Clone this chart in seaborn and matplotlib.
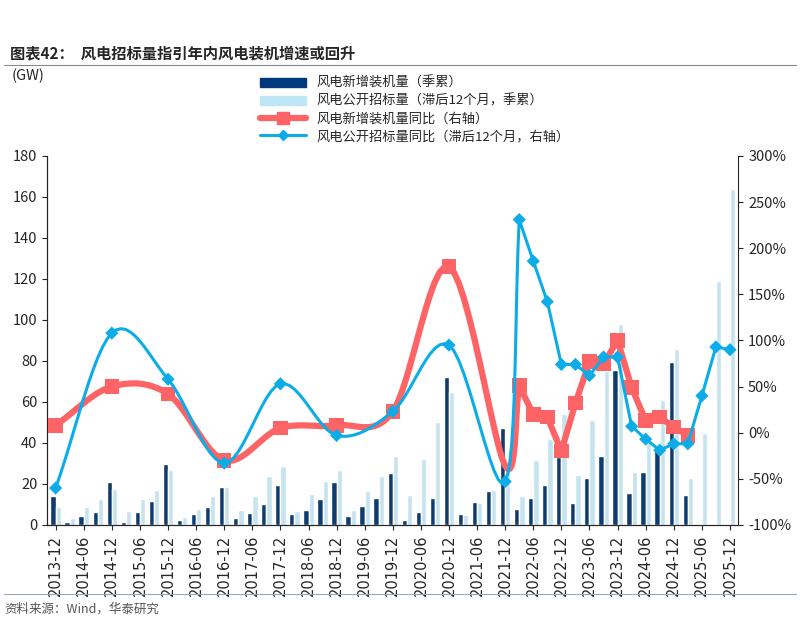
import numpy as np
import pandas as pd
import matplotlib.pyplot as plt
import seaborn as sns
from matplotlib.lines import Line2D
from matplotlib.patches import Patch

quarters = [f'{y}-{m:02d}' for y in range(2013, 2026) for m in (3, 6, 9, 12)][3:]

install = [14, 1.5, 4.5, 6.5, 21, 1.5, 6.5, 11.5, 29.5, 2.5, 5.5, 8.5, 18.5,
           3.5, 6, 10, 19.5, 5.5, 7.5, 12.5, 21, 4.5, 9, 13, 25.5,
           2.5, 6.5, 13, 72, 5.5, 11, 16.5, 47.5, 8, 13, 19.5, 33,
           10.5, 23, 33.5, 75.5, 15.5, 26, 39, 79.5, 14.5, np.nan, np.nan, np.nan]
tender = [8.5, 3.5, 8.5, 12.5, 17.5, 7, 12.5, 17, 27, 4, 8, 14, 18.5,
          7.5, 14, 24, 28.5, 7, 15, 21.5, 27, 7.5, 16.5, 24, 33.5,
          14.5, 32, 50, 65, 5, 10.5, 17, 30, 14, 31.5, 42, 54,
          24.5, 51, 75, 98, 26, 40, 61, 86, 23, 45, 119, 164]

# YoY (%), yearly points before 2022, quarterly after
red_q = ['2013-12', '2014-12', '2015-12', '2016-12', '2017-12', '2018-12', '2019-12',
         '2020-12', '2021-12', '2022-03', '2022-06', '2022-09', '2022-12', '2023-03',
         '2023-06', '2023-09', '2023-12', '2024-03', '2024-06', '2024-09', '2024-12', '2025-03']
red_v = [8, 50, 42, -30, 5, 8, 23, 180, -36, 51, 20, 17, -20, 32, 77, 75, 100, 49, 13, 17, 6, -3]
blue_q = red_q + ['2025-06', '2025-09', '2025-12']
blue_v = [-60, 108, 58, -33, 53, -3, 23, 95, -53, 231, 186, 142, 74, 74, 62, 82, 82,
          7, -7, -19, -12, -12, 40, 93, 90]

n1 = '风电新增装机量（季累）'
n2 = '风电公开招标量（滞后12个月，季累）'
n3 = '风电新增装机量同比（右轴）'
n4 = '风电公开招标量同比（滞后12个月，右轴）'

df = pd.DataFrame({'q': quarters, n1: install, n2: tender}).melt('q', var_name='s', value_name='v')

sns.set_style('ticks')
plt.rcParams['font.family'] = ['Noto Sans CJK SC', 'DejaVu Sans']


def smooth(x, y, k=12):
    # Catmull-Rom curve through the points (drawing only)
    x = np.asarray(x, float); y = np.asarray(y, float)
    P = np.column_stack([x, y])
    P = np.vstack([2 * P[0] - P[1], P, 2 * P[-1] - P[-2]])
    out = []
    t = np.linspace(0, 1, k, endpoint=False)[:, None]
    for i in range(1, len(P) - 2):
        p0, p1, p2, p3 = P[i - 1], P[i], P[i + 1], P[i + 2]
        seg = 0.5 * ((2 * p1) + (-p0 + p2) * t + (2 * p0 - 5 * p1 + 4 * p2 - p3) * t ** 2
                     + (-p0 + 3 * p1 - 3 * p2 + p3) * t ** 3)
        out.append(seg)
    out.append(P[-2][None])
    out = np.vstack(out)
    return out[:, 0], out[:, 1]


def curve(x, y, cut=10):
    # smooth over the yearly part, straight segments for the quarterly part
    sx, sy = smooth(x[:cut], y[:cut])
    return np.concatenate([sx, x[cut:]]), np.concatenate([sy, y[cut:]])


fig = plt.figure(figsize=(8, 6.19), dpi=100)
ax = fig.add_axes([0.059, 0.152, 0.864, 0.596])
sns.barplot(data=df, x='q', y='v', hue='s', palette=['#003a7d', '#bfe6f7'], width=0.75,
            ax=ax, legend=False)
ax.set_ylim(0, 180)
ax.set_yticks(range(0, 181, 20))
ax.set_xlim(-0.6, len(quarters) - 0.4)
ax.set_xticks(range(0, len(quarters), 2))
ax.set_xticklabels(quarters[::2], rotation=90, fontsize=10.5, family='DejaVu Sans')
ax.tick_params(axis='y', labelsize=10.5)
ax.set_xlabel(''); ax.set_ylabel('')
for s in ['top', 'right']:
    ax.spines[s].set_visible(False)

ax2 = ax.twinx()
idx = {q: i for i, q in enumerate(quarters)}
rx = [idx[q] for q in red_q]
bx = [idx[q] for q in blue_q]
sx, sy = curve(rx, red_v)
ax2.plot(sx, sy, color='#fe6366', lw=4.5, zorder=3)
sns.scatterplot(x=rx[:8] + rx[9:], y=red_v[:8] + red_v[9:], marker='s', s=110, color='#fe6366',
                edgecolor='none', ax=ax2, zorder=3)
sx, sy = curve(bx, blue_v)
ax2.plot(sx, sy, color='#0cace8', lw=2.2, zorder=4)
sns.scatterplot(x=bx, y=blue_v, marker='D', s=45, color='#0cace8', edgecolor='none', ax=ax2, zorder=4)
ax2.set_ylim(-100, 300)
ax2.set_yticks(range(-100, 301, 50))
ax2.set_yticklabels([f'{v}%' for v in range(-100, 301, 50)], fontsize=10.5)
ax2.spines['top'].set_visible(False)
ax2.set_xlim(ax.get_xlim())

handles = [Patch(color='#003a7d'), Patch(color='#bfe6f7'),
           Line2D([], [], color='#fe6366', lw=4.5, marker='s', ms=9),
           Line2D([], [], color='#0cace8', lw=2.2, marker='D', ms=5)]
fig.legend(handles, [n1, n2, n3, n4], loc='upper left', bbox_to_anchor=(0.31, 0.895),
           frameon=False, fontsize=9.5, handlelength=3.5, labelspacing=0.35)

fig.text(0.012, 0.905, '图表42：  风电招标量指引年内风电装机增速或回升', fontsize=11, fontweight='bold')
fig.add_artist(Line2D([0.005, 0.995], [0.895, 0.895], color='#888888', lw=0.8))
fig.text(0.015, 0.87, '(GW)', fontsize=10.5)
fig.add_artist(Line2D([0.005, 0.995], [0.04, 0.04], color='#9aa5c0', lw=0.8))
fig.text(0.005, 0.01, '资料来源：Wind，华泰研究', fontsize=9, color='#555555')

fig.savefig('out.png', dpi=100)
